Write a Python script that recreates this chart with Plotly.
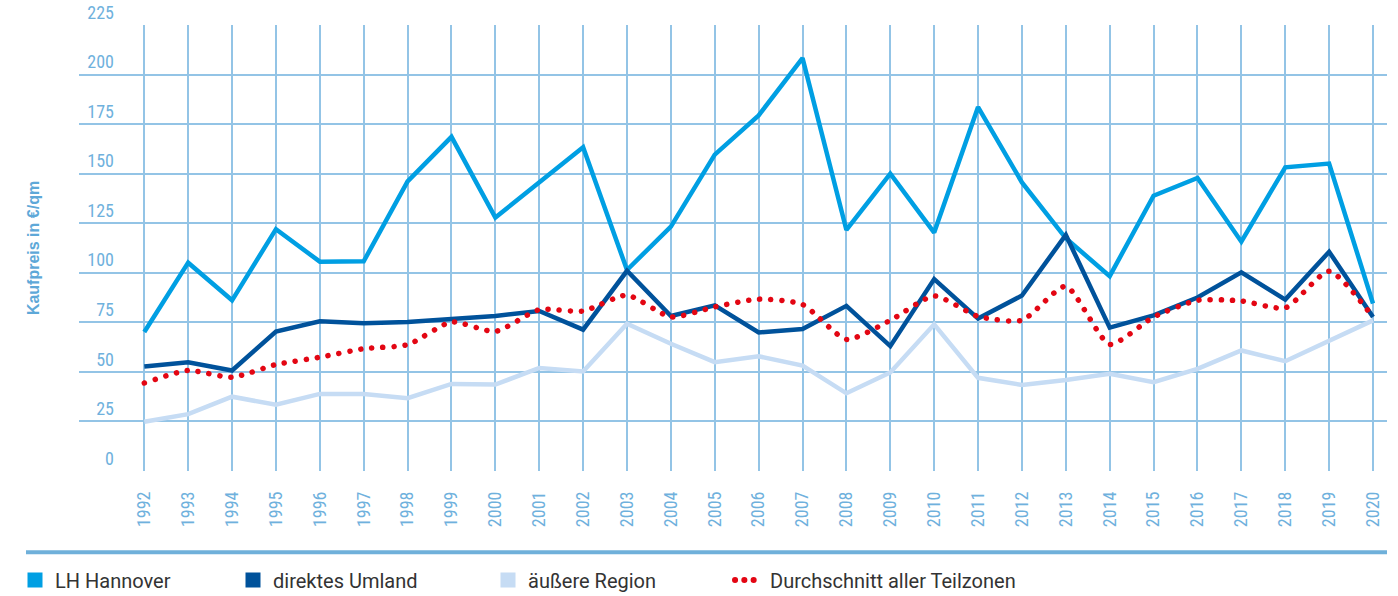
import plotly.graph_objects as go

years = list(range(1992, 2021))
lh_hannover = [70.1, 105.1, 86.1, 122.0, 105.6, 105.8, 146.1, 168.6, 127.9, 145.6,
               163.3, 101.4, 123.3, 159.6, 179.4, 208.3, 121.6, 150.0, 120.3, 183.6,
               145.6, 117.4, 98.3, 138.9, 147.8, 115.7, 153.2, 155.1, 84.5]
direktes_umland = [52.7, 54.9, 50.7, 70.4, 75.5, 74.5, 75.2, 76.7, 78.2, 80.7,
                   71.3, 101.0, 78.2, 83.6, 69.9, 71.6, 83.3, 63.0, 96.8, 76.9,
                   88.5, 119.1, 72.3, 78.5, 87.5, 100.2, 86.5, 110.6, 77.7]
aeussere_region = [24.8, 28.7, 37.5, 33.4, 38.9, 38.9, 36.7, 43.9, 43.6, 52.0,
                   50.2, 74.3, 64.2, 54.9, 57.9, 53.2, 39.2, 49.7, 74.0, 47.0,
                   43.4, 45.9, 49.0, 44.8, 51.5, 60.8, 55.4, 65.9, 76.0]
durchschnitt = [44.4, 50.7, 47.3, 53.7, 57.4, 61.7, 63.7, 75.2, 70.4, 81.4,
                80.7, 88.7, 77.7, 82.8, 86.7, 84.0, 66.4, 76.0, 88.3, 78.0,
                76.0, 93.2, 63.9, 77.7, 86.1, 85.8, 82.3, 100.8, 77.7]
y_ticks = [0, 25, 50, 75, 100, 125, 150, 175, 200, 225]
names = ["LH Hannover", "direktes Umland", "äußere Region", "Durchschnitt aller Teilzonen"]
colors = ["#009fe3", "#00529b", "#c6dcf4", "#e30613"]

FONT = "Liberation Sans Narrow, Roboto Condensed, DejaVu Sans Condensed, Arial Narrow, sans-serif"
LEGFONT = "Roboto, Liberation Sans, Arial, sans-serif"
TICKCOL = "#6fb1dd"
GRIDCOL = "#93c4e6"

fig = go.Figure()
# data lines (drawing order: outer region, city, surrounding, average)
fig.add_trace(go.Scatter(x=years, y=aeussere_region, mode="lines", name=names[2],
                         line=dict(color=colors[2], width=4.5), showlegend=False))
fig.add_trace(go.Scatter(x=years, y=lh_hannover, mode="lines", name=names[0],
                         line=dict(color=colors[0], width=4.5), showlegend=False))
fig.add_trace(go.Scatter(x=years, y=direktes_umland, mode="lines", name=names[1],
                         line=dict(color=colors[1], width=4.5), showlegend=False))
fig.add_trace(go.Scatter(x=years, y=durchschnitt, mode="lines", name=names[3],
                         line=dict(color=colors[3], width=5.5, dash="5px,6px", shape="spline", smoothing=0.6),
                         showlegend=True, legend="legend4"))

# legend entries with square markers
for i, lg in zip(range(3), ["legend", "legend2", "legend3"]):
    fig.add_trace(go.Scatter(x=[None], y=[None], mode="markers", name=names[i],
                             marker=dict(symbol="square", size=15, color=colors[i]),
                             showlegend=True, legend=lg))

leg_common = dict(orientation="h", xref="container", yref="container", xanchor="left",
                  yanchor="middle", y=1 - 580 / 596, bgcolor="rgba(0,0,0,0)",
                  font=dict(family=LEGFONT, size=20, color="#333333"), itemwidth=30)
fig.update_layout(
    legend=dict(x=15 / 1398, **leg_common),
    legend2=dict(x=233 / 1398, **leg_common),
    legend3=dict(x=488 / 1398, **leg_common),
    legend4=dict(x=730 / 1398, **leg_common),
)

plot_l, plot_r = 79, 1387
px_per_year = (1373 - 144.3) / 28
x0 = 1992 - (144.3 - plot_l) / px_per_year
x1 = x0 + (plot_r - plot_l) / px_per_year

fig.update_layout(
    width=1398, height=596,
    margin=dict(l=plot_l, r=1398 - plot_r, t=25, b=125, autoexpand=False),
    paper_bgcolor="white", plot_bgcolor="white",
    font=dict(family=FONT, color=TICKCOL),
    xaxis=dict(range=[x0, x1], tickmode="array", tickvals=years, ticktext=[str(y) for y in years],
               tickangle=-90, showgrid=True, gridcolor=GRIDCOL, gridwidth=1.5,
               zeroline=False, showline=False, ticks="", ticklabelstandoff=16,
               tickfont=dict(family=FONT, size=18, color=TICKCOL), fixedrange=True),
    yaxis=dict(range=[0, 225], tickmode="array", tickvals=y_ticks, ticktext=[str(v) for v in y_ticks],
               anchor="free", position=(114 - plot_l) / (plot_r - plot_l),
               ticklabelposition="outside top", ticks="",
               showgrid=True, gridcolor=GRIDCOL, gridwidth=2, zeroline=False, showline=False,
               tickfont=dict(family=FONT, size=18, color=TICKCOL),
               title=dict(text="<b>Kaufpreis in €/qm</b>",
                          font=dict(family="Liberation Sans, Arial, sans-serif", size=16, color="#5ea8d8"),
                          standoff=42),
               fixedrange=True),
)

# separator line above legend
fig.add_shape(type="line", xref="paper", yref="paper",
              x0=(26 - plot_l) / (plot_r - plot_l), x1=1.0,
              y0=(470.7 - 552) / 445.7, y1=(470.7 - 552) / 445.7,
              line=dict(color="#6fb0da", width=4))

post = """
document.body.style.margin='0';
document.querySelectorAll('.scatterlayer .trace:nth-child(4) path.js-line').forEach(function(p){
  p.style.strokeLinecap='round'; p.style.strokeDasharray='0.1px,11px';
});
document.querySelectorAll('.legendlines path').forEach(function(p){
  var s = (p.style.stroke || p.getAttribute('stroke') || '');
  if (s.indexOf('227') >= 0 || s.toLowerCase().indexOf('e30613') >= 0) {
    p.style.strokeLinecap='round'; p.style.strokeWidth='6px';
    p.style.strokeDasharray='0.1px,9.2px,0.1px,9.2px,0.1px,60px';
  }
});
"""
fig.write_html("out.html", post_script=post, config={"displayModeBar": False})
